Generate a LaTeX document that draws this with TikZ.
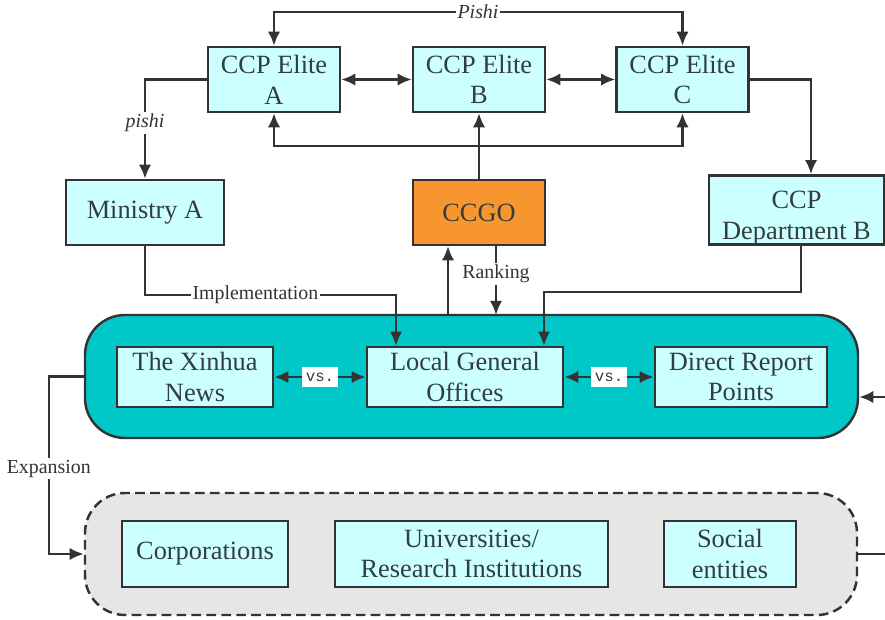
\documentclass[tikz,border=0pt]{standalone}
\usepackage{fontspec}
\setmainfont{Liberation Serif}
\setmonofont{Liberation Mono}
\usetikzlibrary{arrows.meta}
\definecolor{boxcyan}{RGB}{204,255,255}
\definecolor{coreteal}{RGB}{0,200,200}
\definecolor{ccgoorange}{RGB}{247,150,47}
\definecolor{outergray}{RGB}{230,230,230}
\definecolor{inkgray}{RGB}{51,51,51}
\definecolor{textgray}{RGB}{50,62,62}
\tikzset{
  orgbox/.style={draw=inkgray, fill=boxcyan, line width=1.4pt, minimum width=#1,
    minimum height=1.3cm, inner sep=0pt, align=center, text=textgray,
    font=\fontsize{15}{17.5}\selectfont},
  orgbox/.default=2.64cm,
  flowlabel/.style={fill=white, inner sep=1pt, text=inkgray, font=\fontsize{11.3}{13}\selectfont},
  vsbox/.style={fill=white, inner xsep=2pt, inner ysep=3pt, text=textgray, font=\ttfamily\fontsize{9}{10}\selectfont},
}
\begin{document}
\begin{tikzpicture}[>={Latex[length=8pt,width=7pt]}, line width=1.4pt, color=inkgray]
        \useasboundingbox (0,0) rectangle (17.70,12.38);
        % the two groups
        \node[draw, fill=coreteal, rounded corners=0.8cm, minimum width=15.46cm, minimum height=2.46cm] (core) at (9.43,4.85) {};
        \node[draw, dash pattern=on 5.5pt off 3pt, fill=outergray, rounded corners=0.8cm, minimum width=15.44cm, minimum height=2.44cm] (outer) at (9.42,1.30) {};
        % elites
        \foreach \name/\x/\lbl in {eliteA/5.48/A, eliteB/9.58/B, eliteC/13.65/C}
            \node[orgbox] (\name) at (\x,10.79) {CCP Elite\\\lbl};
        \node[orgbox=3.16cm] (ministry) at (2.90,8.13) {Ministry A};
        \node[orgbox, fill=ccgoorange] (ccgo) at (9.58,8.13) {CCGO};
        \node[orgbox=3.5cm, minimum height=1.2cm] (deptB) at (15.93,8.18) {\rule{0pt}{1.25em}CCP\\Department B};
        \node[orgbox=3.12cm, minimum height=1.2cm] (xinhua) at (3.90,4.84) {The Xinhua\\News};
        \node[orgbox=3.92cm, minimum height=1.2cm] (lgo) at (9.30,4.84) {Local General\\Offices};
        \node[orgbox=3.44cm, minimum height=1.2cm] (drp) at (14.82,4.84) {Direct Report\\Points};
        \node[orgbox=3.32cm, minimum height=1.32cm] (corp) at (4.10,1.30) {Corporations};
        \node[orgbox=5.46cm, minimum height=1.32cm] (univ) at (9.43,1.30) {Universities/\\Research Institutions};
        \node[orgbox=2.64cm, minimum height=1.32cm] (social) at (14.60,1.30) {Social\\entities};
        % connectors
        \draw[<->] (eliteA.east) -- (eliteB.west);
        \draw[<->] (eliteB.east) -- (eliteC.west);
        \coordinate (pishiTop) at (9.56,12.14);
        \draw[<->] (eliteA.north) |- (pishiTop) node[flowlabel]{\textit{Pishi}} -| (eliteC.north);
        \coordinate (eliteBase) at (9.58,9.46);
        \draw[<->] (eliteA.south) |- (eliteBase) -| (eliteC.south);
        \draw[->] (ccgo.north) -- (eliteB.south);
        \draw[->] (eliteA.west) -| node[pos=0.72, flowlabel]{\textit{pishi}} (ministry.north);
        \draw[->] (eliteC.east) -| ([xshift=0.29cm]deptB.north);
        \coordinate (implTurn) at (7.92,6.48);
        \draw[->] (ministry.south) |- node[pos=0.72, flowlabel]{Implementation} (implTurn) -- (implTurn |- lgo.north);
        \coordinate (deptTurn) at (10.88,6.54);
        \draw[->] ([xshift=0.09cm]deptB.south) |- (deptTurn) -- (deptTurn |- lgo.north);
        \coordinate (reportFoot) at (8.96,6.08);
        \draw[->] (reportFoot) -- (reportFoot |- ccgo.south);
        \coordinate (rankFoot) at (9.92,6.08);
        \draw[->] (rankFoot |- ccgo.south) -- node[pos=0.4, flowlabel]{Ranking} (rankFoot);
        \draw[<->] (xinhua.east) -- node[vsbox]{vs.} (lgo.west);
        \draw[<->] (lgo.east) -- node[vsbox]{vs.} (drp.west);
        \coordinate (sideIn) at (17.70,4.44);
        \draw[->] (sideIn) -- (sideIn -| core.east);
        \draw[->] (core.west) -- ++(-0.7,0) |- node[pos=0.26, flowlabel]{Expansion} (outer.west);
        \coordinate (sideOut) at (17.70,1.30);
        \draw (outer.east) -- (sideOut);
    \end{tikzpicture}
\end{document}
